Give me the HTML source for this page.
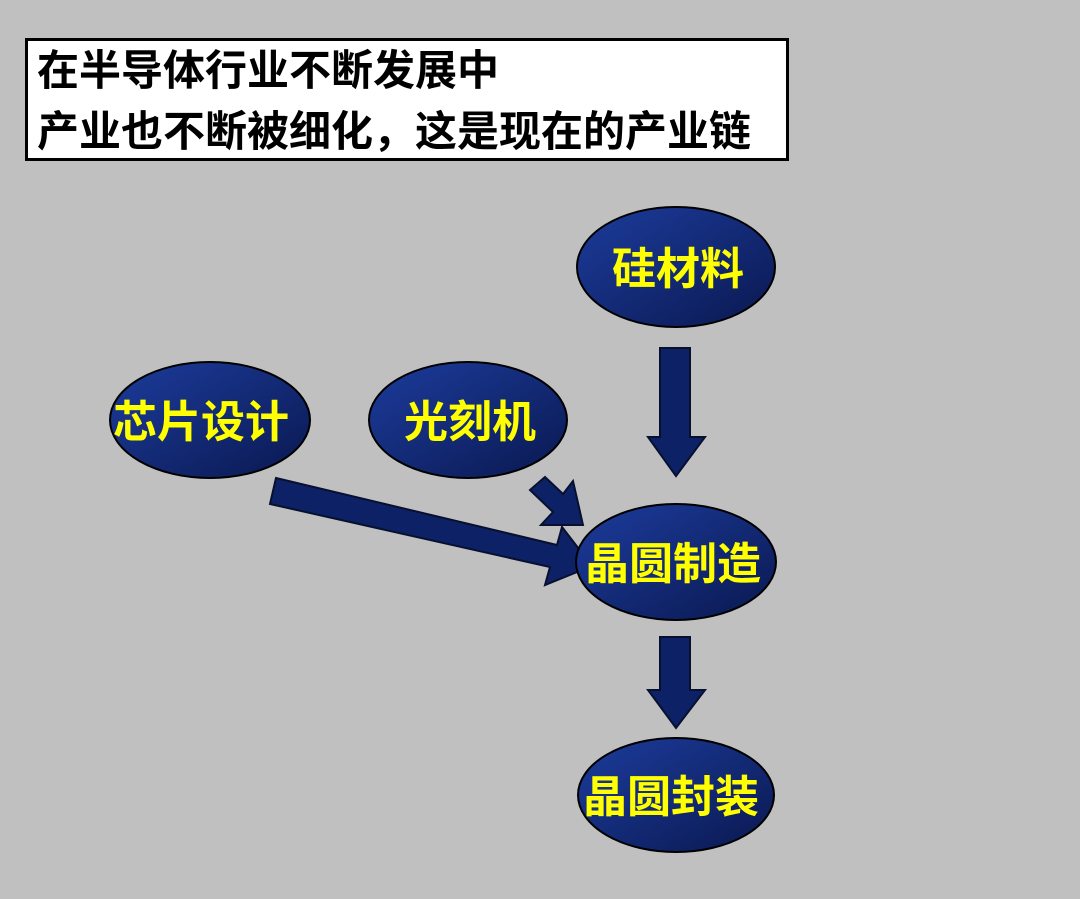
<!DOCTYPE html>
<html><head><meta charset="utf-8"><style>
html,body{margin:0;padding:0;background:#c0c0c0;}
body{width:1080px;height:899px;position:relative;overflow:hidden;font-family:"Liberation Sans","Noto Sans CJK SC",sans-serif;}
.title{position:absolute;left:25px;top:38px;width:758px;height:117px;background:#fff;border:3px solid #000;}
.title div{position:absolute;left:9px;font-size:42px;font-weight:bold;color:#000;white-space:nowrap;line-height:1;}
</style></head><body>
<div class="title"><div style="top:9px">在半导体行业不断发展中</div><div style="top:70px">产业也不断被细化，这是现在的产业链</div></div>
<svg width="1080" height="899" style="position:absolute;left:0;top:0">
<defs><linearGradient id="g" x1="0" y1="0" x2="1" y2="1"><stop offset="0" stop-color="#1c3c9c"/><stop offset="1" stop-color="#0a1850"/></linearGradient></defs>
<g fill="#0d2266" stroke="#081030" stroke-width="2">
<polygon points="660,348 690,348 690,437 705,437 676,476 648,437 660,437"/>
<polygon points="660,637 690,637 690,690 705,690 676,728 648,690 660,690"/>
<polygon points="276,478 557,545 562,527 592,566 545,585 550,567 270,504"/>
<polygon points="530,490 545,477 563,494 573,481 583,525 541,525 553,512"/>
</g>
<g fill="url(#g)" stroke="#000" stroke-width="2">
<ellipse cx="676" cy="267" rx="99" ry="60"/>
<ellipse cx="210" cy="420" rx="100" ry="58"/>
<ellipse cx="468" cy="420" rx="99" ry="58"/>
<ellipse cx="676" cy="562" rx="100" ry="58"/>
<ellipse cx="676" cy="795" rx="98" ry="57"/>
</g>
<g fill="#ffff00" font-size="44" font-weight="bold" text-anchor="middle" font-family="Liberation Sans, Noto Sans CJK SC, sans-serif">
<text x="678" y="284">硅材料</text>
<text x="201" y="437">芯片设计</text>
<text x="470" y="437">光刻机</text>
<text x="673" y="579">晶圆制造</text>
<text x="671" y="812">晶圆封装</text>
</g>
</svg>
</body></html>
